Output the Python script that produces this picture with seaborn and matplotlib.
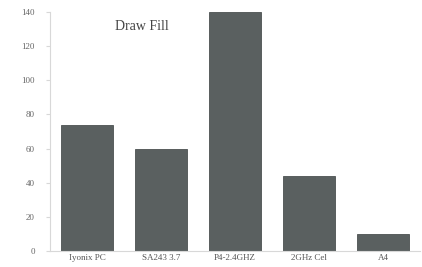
import matplotlib

matplotlib.use("Agg")
import matplotlib.pyplot as plt
import pandas as pd
import seaborn as sns

# Values
categories = ["Iyonix PC", "SA243 3.7", "P4-2.4GHZ", "2GHz Cel", "A4"]
values = [74, 60, 140, 44, 10]
y_ticks = [0, 20, 40, 60, 80, 100, 120, 140]

df = pd.DataFrame({"machine": categories, "value": values})

sns.set_style("white")
plt.rcParams["font.family"] = ["Liberation Serif", "DejaVu Serif"]

fig = plt.figure(figsize=(4.22, 2.67), dpi=100)
ax = fig.add_axes([50 / 422, 16 / 267, 370 / 422, 239 / 267])

sns.barplot(
    data=df, x="machine", y="value", ax=ax,
    color="#5a6060", saturation=1, width=0.7,
    edgecolor="#4c5151", linewidth=0.6,
)

ax.set_ylim(0, 140)
ax.set_xlim(-0.5, len(categories) - 0.5)
ax.set_yticks(y_ticks)
ax.set_xlabel("")
ax.set_ylabel("")

for side in ("top", "right"):
    ax.spines[side].set_visible(False)
for side in ("left", "bottom"):
    ax.spines[side].set_color("#d8d8d8")
    ax.spines[side].set_linewidth(0.8)

ax.tick_params(axis="y", length=3, color="#d8d8d8", labelsize=6.5,
               labelcolor="#666666", pad=8, left=True)
ax.tick_params(axis="x", length=0, labelsize=6.5, labelcolor="#555555", pad=2)

ax.text(0.175, 0.965, "Draw Fill", transform=ax.transAxes,
        ha="left", va="top", fontsize=10, color="#444444")

fig.savefig("out.png", dpi=100, facecolor="white")
